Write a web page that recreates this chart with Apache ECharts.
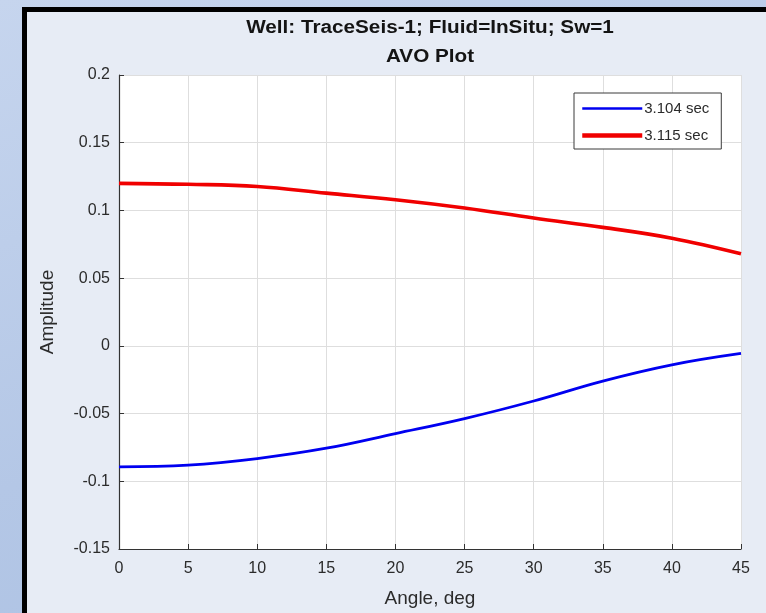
<!DOCTYPE html>
<html>
<head>
<meta charset="utf-8">
<title>AVO Plot</title>
<script src="https://cdn.jsdelivr.net/npm/echarts@6/dist/echarts.min.js"></script>
<style>
  html, body { margin: 0; padding: 0; width: 766px; height: 613px; overflow: hidden;
    background: linear-gradient(160deg, #c6d5ee 0%, #b4c7e6 55%, #aac0e2 100%); }
  #frame { position: absolute; left: 22px; top: 7px; right: -10px; bottom: -10px;
    border-left: 5px solid #000; border-top: 5px solid #000; background: #e7ecf5; }
  #chart { position: absolute; left: 0; top: 0; width: 766px; height: 613px; }
</style>
</head>
<body>
<div id="frame"></div>
<div id="chart"></div>
<script>
// Incidence angle (deg) and the picked amplitudes at the two event times
const angles   = [0, 5, 10, 15, 20, 25, 30, 35, 40, 45];
const amp3104  = [-0.0893, -0.0880, -0.0832, -0.0756, -0.0648, -0.0537, -0.0407, -0.0260, -0.0140, -0.0056];
const amp3115  = [0.1200, 0.1193, 0.1177, 0.1128, 0.1079, 0.1018, 0.0944, 0.0875, 0.0795, 0.0680];
const seriesNames = ['3.104 sec', '3.115 sec'];

// Axis tick values
const xTicks = [0, 5, 10, 15, 20, 25, 30, 35, 40, 45];
const yTicks = [-0.15, -0.1, -0.05, 0, 0.05, 0.1, 0.15, 0.2];

const titleLines = ['Well: TraceSeis-1; Fluid=InSitu; Sw=1', 'AVO Plot'];

const FONT = '"Liberation Sans", Arial, Helvetica, sans-serif';
const INK = '#2b2b2b';
const BLUE = '#0000f0';
const RED = '#f00000';

const chart = echarts.init(document.getElementById('chart'), null, { renderer: 'canvas' });

const plotCenterX = 430;

chart.setOption({
  backgroundColor: 'transparent',
  animation: false,
  graphic: titleLines.map((t, i) => ({
    type: 'text',
    x: plotCenterX,
    y: i === 0 ? 28 : 57,
    scaleX: 1.15,
    style: {
      text: t,
      align: 'center',
      verticalAlign: 'middle',
      font: 'bold 18px ' + FONT,
      fill: '#141414'
    }
  })),
  grid: {
    left: 119, top: 75, right: 25, bottom: 64, containLabel: false,
    show: true, backgroundColor: '#ffffff', borderWidth: 0
  },
  legend: {
    orient: 'vertical',
    left: 574,
    top: 93,
    padding: [8, 12, 6, 6],
    itemWidth: 60,
    itemHeight: 14,
    itemGap: 12,
    backgroundColor: '#ffffff',
    borderColor: '#3a3a3a',
    borderWidth: 1,
    borderRadius: 0,
    textStyle: { fontFamily: FONT, fontSize: 15, color: INK, padding: [0, 0, 0, -3] },
    data: [
      { name: seriesNames[0], itemStyle: { opacity: 0 }, lineStyle: { width: 2.5, color: BLUE } },
      { name: seriesNames[1], itemStyle: { opacity: 0 }, lineStyle: { width: 4.5, color: RED } }
    ]
  },
  xAxis: {
    type: 'value',
    min: xTicks[0],
    max: xTicks[xTicks.length - 1],
    interval: xTicks[1] - xTicks[0],
    name: 'Angle, deg',
    nameLocation: 'middle',
    nameGap: 40,
    nameTextStyle: { fontFamily: FONT, fontSize: 19, color: INK },
    axisLine: { show: true, onZero: false, lineStyle: { color: '#333333', width: 1.2 } },
    axisTick: { show: true, inside: true, length: 5, lineStyle: { color: '#333333' } },
    axisLabel: { fontFamily: FONT, fontSize: 16, color: INK, margin: 12 },
    splitLine: { show: true, lineStyle: { color: '#dedede', width: 1 } }
  },
  yAxis: {
    type: 'value',
    min: yTicks[0],
    max: yTicks[yTicks.length - 1],
    interval: 0.05,
    name: 'Amplitude',
    nameLocation: 'middle',
    nameRotate: 90,
    nameGap: 62,
    nameTextStyle: { fontFamily: FONT, fontSize: 19, color: INK },
    axisLine: { show: true, onZero: false, lineStyle: { color: '#333333', width: 1.2 } },
    axisTick: { show: true, inside: true, length: 5, lineStyle: { color: '#333333' } },
    axisLabel: {
      fontFamily: FONT, fontSize: 16, color: INK, margin: 9,
      formatter: v => String(parseFloat(v.toFixed(2)))
    },
    splitLine: { show: true, lineStyle: { color: '#dedede', width: 1 } }
  },
  series: [
    {
      name: seriesNames[0],
      type: 'line',
      smooth: 0.4,
      symbol: 'none',
      lineStyle: { color: BLUE, width: 2.8 },
      itemStyle: { color: BLUE },
      data: angles.map((a, i) => [a, amp3104[i]])
    },
    {
      name: seriesNames[1],
      type: 'line',
      smooth: 0.4,
      symbol: 'none',
      lineStyle: { color: RED, width: 3.6 },
      itemStyle: { color: RED },
      data: angles.map((a, i) => [a, amp3115[i]])
    }
  ]
});
</script>
</body>
</html>
